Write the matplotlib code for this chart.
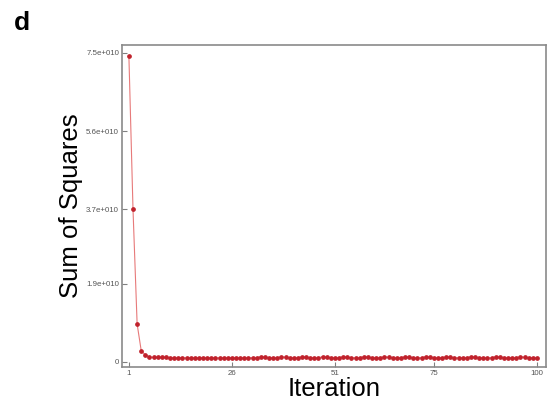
import matplotlib
matplotlib.use("Agg")
import matplotlib.pyplot as plt

# iteration numbers and sum-of-squares values (units of 1e10)
iterations = list(range(1, 101))
sse_e10 = [
    7.43, 3.70, 0.92, 0.27, 0.17, 0.12, 0.11, 0.11, 0.11, 0.11,
    0.10, 0.10, 0.10, 0.10, 0.10, 0.10, 0.10, 0.10, 0.10, 0.10,
    0.10, 0.10, 0.10, 0.10, 0.10, 0.10, 0.10, 0.10, 0.10, 0.10,
    0.10, 0.10, 0.13, 0.11, 0.10, 0.10, 0.10, 0.13, 0.11, 0.10,
    0.10, 0.10, 0.13, 0.11, 0.10, 0.10, 0.10, 0.13, 0.11, 0.10,
    0.10, 0.10, 0.13, 0.11, 0.10, 0.10, 0.10, 0.13, 0.11, 0.10,
    0.10, 0.10, 0.13, 0.11, 0.10, 0.10, 0.10, 0.13, 0.11, 0.10,
    0.10, 0.10, 0.13, 0.11, 0.10, 0.10, 0.10, 0.13, 0.11, 0.10,
    0.10, 0.10, 0.10, 0.13, 0.11, 0.10, 0.10, 0.10, 0.10, 0.13,
    0.11, 0.10, 0.10, 0.10, 0.10, 0.13, 0.11, 0.10, 0.10, 0.10,
]
x_ticks = [1, 26, 51, 75, 100]
y_ticks = [0, 1.9e10, 3.7e10, 5.6e10, 7.5e10]
y_tick_labels = ["0", "1.9e+010", "3.7e+010", "5.6e+010", "7.5e+010"]

plt.rcParams["font.family"] = ["Liberation Sans", "DejaVu Sans"]

fig = plt.figure(figsize=(5.49, 4.05), dpi=100)
ax = fig.add_axes([0.222, 0.094, 0.7725, 0.795])

sse = [v * 1e10 for v in sse_e10]
ax.plot(iterations, sse, color="#e77a7a", linewidth=0.8, zorder=2)
ax.plot(iterations, sse, linestyle="none", marker="o", markersize=2.4,
        color="#c0222c", zorder=3)

ax.set_xlim(-0.7, 102.2)
ax.set_ylim(-0.12e10, 7.69e10)
ax.set_xticks(x_ticks)
ax.set_yticks(y_ticks)
ax.set_yticklabels(y_tick_labels)

ax.tick_params(direction="in", length=3.6, width=0.8, color="#808080",
               labelsize=5.7, labelcolor="#555555", pad=2)
for spine in ax.spines.values():
    spine.set_color("#8a8a8a")
    spine.set_linewidth(1.2)

ax.set_xlabel("Iteration", fontsize=18.5, labelpad=0)
ax.set_ylabel("Sum of Squares", fontsize=18.5, labelpad=2)

fig.text(0.025, 0.925, "d", fontsize=19, fontweight="bold")

fig.savefig("out.png", dpi=100)
